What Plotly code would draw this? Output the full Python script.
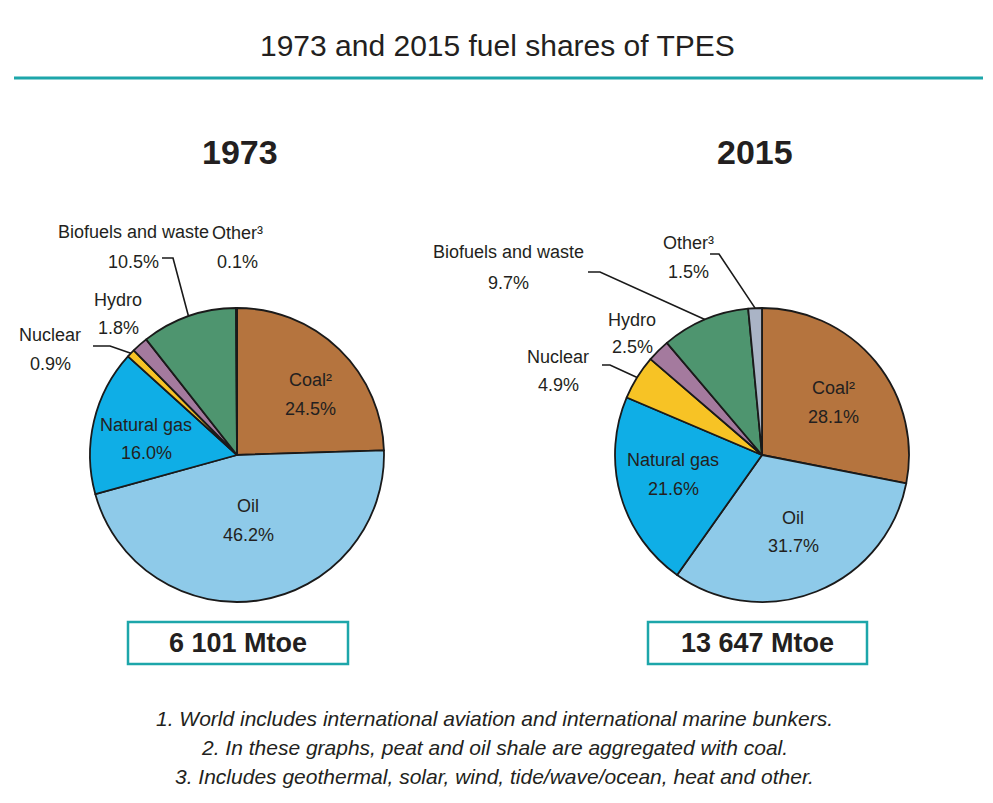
import math
import plotly.graph_objects as go

W, H = 993, 803

# ---------------- data ----------------
fuels = ["Coal", "Oil", "Natural gas", "Nuclear", "Hydro", "Biofuels and waste", "Other"]
label_names = ["Coal²", "Oil", "Natural gas", "Nuclear", "Hydro", "Biofuels and waste", "Other³"]
shares_1973 = [24.5, 46.2, 16.0, 0.9, 1.8, 10.5, 0.1]
shares_2015 = [28.1, 31.7, 21.6, 4.9, 2.5, 9.7, 1.5]
years = ["1973", "2015"]
totals = ["6 101 Mtoe", "13 647 Mtoe"]
title_text = "1973 and 2015 fuel shares of TPES"
footnotes = [
    "1. World includes international aviation and international marine bunkers.",
    "2. In these graphs, peat and oil shale are aggregated with coal.",
    "3. Includes geothermal, solar, wind, tide/wave/ocean, heat and other.",
]

# ---------------- styles ----------------
colors = ["#B5743E", "#8ECAE9", "#0FAEE6", "#F7C325", "#A47A9E", "#4E956F", "#AAB4C6"]
TEAL = "#1DA6AA"
TXT = "#231F20"
FONT = "Liberation Sans, Arial, sans-serif"

centers = [(237, 455), (762, 455)]
R = 147

def px(x, y):
    return x / W, 1 - y / H

fig = go.Figure()
for i, shares in enumerate([shares_1973, shares_2015]):
    cx, cy = centers[i]
    fig.add_trace(go.Pie(
        labels=fuels, values=shares, sort=False, direction="clockwise", rotation=0,
        marker=dict(colors=colors, line=dict(color="#1a1a1a", width=1.8)),
        textinfo="none", hoverinfo="skip", showlegend=False,
        domain=dict(x=[(cx - R) / W, (cx + R) / W], y=[1 - (cy + R) / H, 1 - (cy - R) / H]),
    ))

annotations = []
shapes = []

def add_text(x, y, text, size=18, bold=False, italic=False, xanchor="center"):
    t = text
    if bold:
        t = "<b>" + t + "</b>"
    if italic:
        t = "<i>" + t + "</i>"
    ax, ay = px(x, y)
    annotations.append(dict(x=ax, y=ay, xref="paper", yref="paper", text=t, showarrow=False,
                            xanchor=xanchor, yanchor="middle",
                            font=dict(family=FONT, size=size, color=TXT)))

# title and rule
add_text(497, 45, title_text, size=30)
shapes.append(dict(type="line", xref="paper", yref="paper", x0=px(14, 78)[0], x1=px(983, 78)[0],
                   y0=px(14, 78)[1], y1=px(14, 78)[1], line=dict(color=TEAL, width=3)))

# year headers
add_text(240, 152, years[0], size=34, bold=True)
add_text(755, 152, years[1], size=34, bold=True)

# label positions (pixel layout): x, y of name line, y of value line
label_pos = [
    # 1973
    {0: (310, 380, 409), 1: (248, 506, 535), 2: (146, 425, 453), 3: (50, 335, 364),
     4: (118, 300, 328), 5: (133, 232, 262), 6: (237, 233, 262)},
    # 2015
    {0: (833, 388, 417), 1: (793, 518, 546), 2: (673, 460, 489), 3: (558, 357, 385),
     4: (632, 320, 347), 5: (508, 252, 283), 6: (688, 243, 272)},
]

for i, shares in enumerate([shares_1973, shares_2015]):
    for k, name in enumerate(label_names):
        x, y1, y2 = label_pos[i][k]
        add_text(x, y1, name)
        add_text(x, y2, f"{shares[k]:.1f}%")

# leader lines: start points (layout), end on slice edge at the slice mid-angle (from data)
def edge_point(i, k, shares):
    cum = sum(shares[:k]) + shares[k] / 2
    ang = math.radians(cum / sum(shares) * 360)
    cx, cy = centers[i]
    return cx + R * math.sin(ang), cy - R * math.cos(ang)

leaders = [
    {5: [(162, 258), (173, 258)], 3: [(93, 346), (110, 346)]},
    {5: [(588, 272), (600, 272)], 6: [(710, 254), (719, 254)], 3: [(602, 365), (610, 365)]},
]
for i, shares in enumerate([shares_1973, shares_2015]):
    for k, pts in leaders[i].items():
        ex, ey = edge_point(i, k, shares)
        allp = pts + [(ex, ey)]
        path = "M " + " L ".join(f"{px(a, b)[0]:.5f},{px(a, b)[1]:.5f}" for a, b in allp)
        shapes.append(dict(type="path", xref="paper", yref="paper", path=path,
                           line=dict(color="#1a1a1a", width=1.6)))

# total boxes
boxes = [(128, 348), (648, 867)]
for i, (x0, x1) in enumerate(boxes):
    a0, b0 = px(x0, 622)
    a1, b1 = px(x1, 664)
    shapes.append(dict(type="rect", xref="paper", yref="paper", x0=a0, x1=a1, y0=b1, y1=b0,
                       line=dict(color=TEAL, width=2.5), fillcolor="white"))
    add_text((x0 + x1) / 2, 643, totals[i], size=27, bold=True)

# footnotes
for j, t in enumerate(footnotes):
    add_text(494, 718 + 29 * j, t, size=21, italic=True)

fig.update_layout(
    width=W, height=H, margin=dict(l=0, r=0, t=0, b=0),
    paper_bgcolor="white", plot_bgcolor="white",
    annotations=annotations, shapes=shapes,
)
fig.write_html("out.html")
